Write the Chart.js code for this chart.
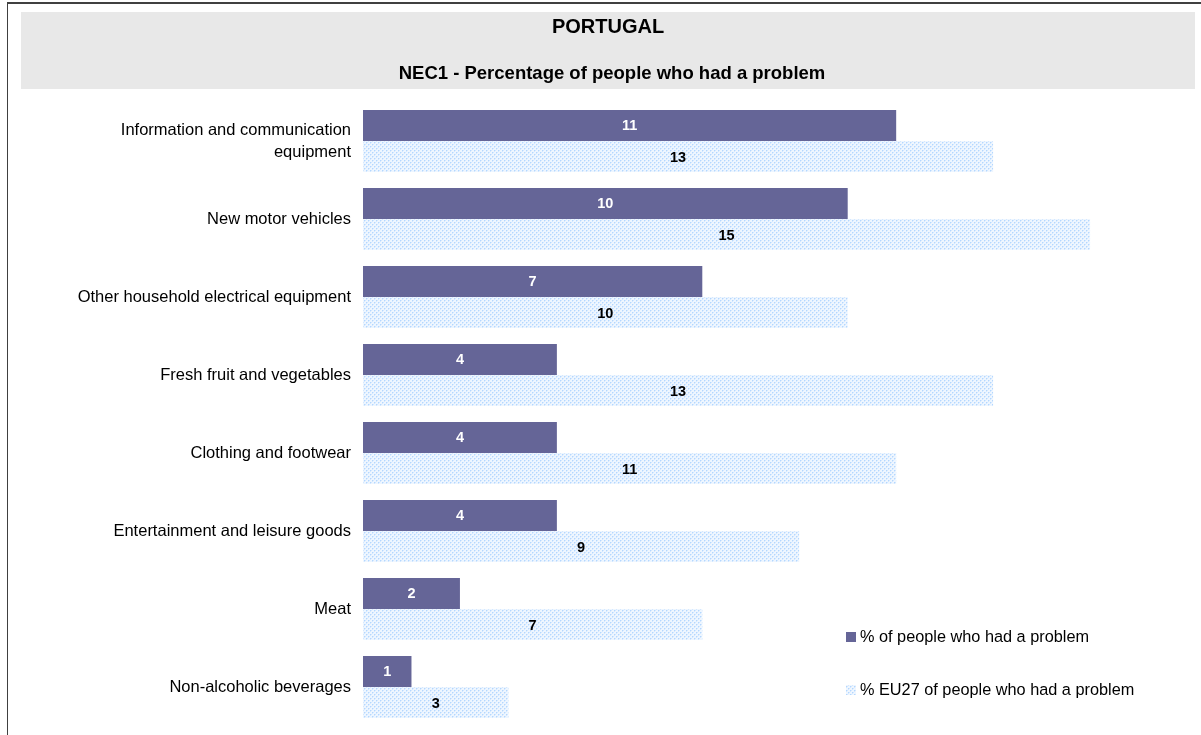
<!DOCTYPE html>
<html>
<head>
<meta charset="utf-8">
<title>PORTUGAL - NEC1</title>
<script src="https://cdn.jsdelivr.net/npm/chart.js@4.4.1/dist/chart.umd.min.js"></script>
<style>
  html, body { margin: 0; padding: 0; background: #fff; }
  #wrap { width: 1201px; height: 735px; position: relative; }
</style>
</head>
<body>
<div id="wrap"><canvas id="nec1Chart" width="1201" height="735"></canvas></div>
<script>
// categories and values (share of people, %)
const categories = [
    ['Information and communication', 'equipment'],
    'New motor vehicles',
    'Other household electrical equipment',
    'Fresh fruit and vegetables',
    'Clothing and footwear',
    'Entertainment and leisure goods',
    'Meat',
    'Non-alcoholic beverages'
];
const portugalValues = [11, 10, 7, 4, 4, 4, 2, 1];
const eu27Values = [13, 15, 10, 13, 11, 9, 7, 3];
const seriesNames = ['% of people who had a problem', '% EU27 of people who had a problem'];
const chartTitle = 'PORTUGAL';
const chartSubtitle = 'NEC1 - Percentage of people who had a problem';

const FONT = 'Arial, "Liberation Sans", sans-serif';
const PURPLE = '#656597';

// dotted light-blue fill for the EU27 bars
function dotPattern() {
    const c = document.createElement('canvas');
    c.width = 4; c.height = 4;
    const g = c.getContext('2d');
    g.fillStyle = '#eef6ff';
    g.fillRect(0, 0, 4, 4);
    g.fillStyle = '#b4d7ff';
    g.fillRect(0, 0, 1, 1);
    g.fillRect(2, 2, 1, 1);
    g.fillStyle = '#d4e8ff';
    g.fillRect(1, 0, 1, 1);
    g.fillRect(0, 1, 1, 1);
    g.fillRect(3, 2, 1, 1);
    g.fillRect(2, 3, 1, 1);
    return g.createPattern(c, 'repeat');
}
const eu27Fill = dotPattern();

// frame, grey header band and the two title lines
const frame = {
    id: 'frame',
    beforeDraw(chart) {
        const ctx = chart.ctx;
        ctx.save();
        ctx.fillStyle = '#404040';
        ctx.fillRect(7, 2, chart.width - 7, 2);
        ctx.fillRect(7, 2, 1, chart.height - 2);
        ctx.fillStyle = '#e8e8e8';
        ctx.fillRect(21, 12, 1174, 77);
        ctx.fillStyle = '#000';
        ctx.textAlign = 'center';
        ctx.textBaseline = 'middle';
        ctx.font = 'bold 20px ' + FONT;
        ctx.fillText(chartTitle, 608, 27);
        ctx.font = 'bold 18.5px ' + FONT;
        ctx.fillText(chartSubtitle, 612, 74);
        ctx.restore();
    }
};

// value written in the middle of every bar
const barValues = {
    id: 'barValues',
    afterDatasetsDraw(chart) {
        const ctx = chart.ctx;
        ctx.save();
        ctx.font = 'bold 14.5px ' + FONT;
        ctx.textAlign = 'center';
        ctx.textBaseline = 'middle';
        chart.data.datasets.forEach((ds, i) => {
            ctx.fillStyle = i === 0 ? '#fff' : '#000';
            chart.getDatasetMeta(i).data.forEach((bar, j) => {
                ctx.fillText(String(ds.data[j]), (bar.x + bar.base) / 2, bar.y + 1);
            });
        });
        ctx.restore();
    }
};

// legend in the lower right corner
const cornerLegend = {
    id: 'cornerLegend',
    afterDraw(chart) {
        const ctx = chart.ctx;
        const rows = [637, 690];
        ctx.save();
        ctx.font = '16.3px ' + FONT;
        ctx.textBaseline = 'middle';
        ctx.textAlign = 'left';
        chart.data.datasets.forEach((ds, i) => {
            ctx.fillStyle = ds.backgroundColor;
            ctx.fillRect(846, rows[i] - 5, 10, 10);
            ctx.fillStyle = '#000';
            ctx.fillText(ds.label, 860, rows[i] + 1);
        });
        ctx.restore();
    }
};

new Chart(document.getElementById('nec1Chart'), {
    type: 'bar',
    data: {
        labels: categories,
        datasets: [
            { label: seriesNames[0], data: portugalValues, backgroundColor: PURPLE },
            { label: seriesNames[1], data: eu27Values, backgroundColor: eu27Fill }
        ]
    },
    options: {
        indexAxis: 'y',
        responsive: false,
        animation: false,
        datasets: { bar: { categoryPercentage: 0.795, barPercentage: 1, borderWidth: 0 } },
        layout: { padding: { top: 102, bottom: 9, right: 14, left: 0 } },
        scales: {
            x: {
                display: false,
                min: 0,
                max: 17
            },
            y: {
                grid: { display: false, drawTicks: false },
                border: { display: false },
                afterFit(scale) {
                    scale.width = 363;
                    scale.paddingTop = 0;
                    scale.paddingBottom = 0;
                },
                ticks: {
                    color: '#000',
                    padding: 12,
                    font: { family: FONT, size: 16.5, lineHeight: 1.33 }
                }
            }
        },
        plugins: {
            legend: { display: false },
            tooltip: { enabled: false }
        }
    },
    plugins: [frame, barValues, cornerLegend]
});
</script>
</body>
</html>
